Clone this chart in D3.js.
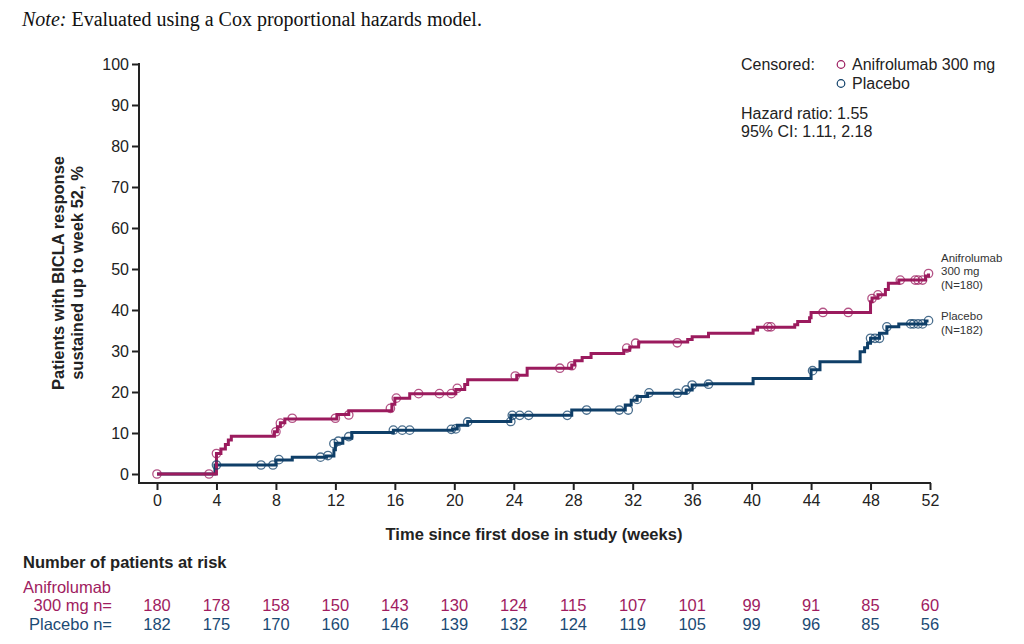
<!DOCTYPE html>
<html>
<head>
<meta charset="utf-8">
<script src="https://cdn.jsdelivr.net/npm/d3@7"></script>
<style>
  html, body { margin: 0; padding: 0; background: #fff; }
  svg { display: block; }
  .sans { font-family: "Liberation Sans", Arial, Helvetica, sans-serif; }
</style>
</head>
<body>
<svg id="chart" width="1024" height="644"></svg>
<script>
// ---------- DATA ----------
const xTicks = [0,4,8,12,16,20,24,28,32,36,40,44,48,52];
const yTicks = [0,10,20,30,40,50,60,70,80,90,100];

// Step curves: [week, cumulative % responders after the step]
const aniSteps = [[0,0],[4.0,5.0],[4.3,6.1],[4.6,7.2],[4.8,8.3],[5.0,9.2],[7.9,10.3],[8.1,11.5],[8.3,12.5],[8.6,13.4],
  [12.1,14.5],[12.9,15.4],[15.8,17.0],[16.0,18.5],[17.0,19.6],[20.1,20.6],[20.7,21.8],[20.9,23.0],[24.2,24.1],[24.9,25.8],
  [27.9,26.6],[28.1,27.6],[28.6,28.4],[29.2,29.4],[31.4,30.2],[31.8,31.0],[32.4,32.2],[35.7,32.8],[36.0,33.5],[37.1,34.3],
  [40.1,35.1],[40.4,35.8],[42.9,36.4],[43.1,37.2],[43.9,38.1],[44.0,39.4],[48.0,42.0],[48.1,42.9],[48.5,43.7],[49.0,45.0],
  [49.2,46.5],[49.9,47.3],[51.7,48.3],[51.9,48.9]];
const plaSteps = [[0,0],[3.9,2.2],[8.0,3.4],[9.1,4.1],[11.4,4.4],[11.9,5.9],[12.0,7.5],[12.5,8.7],[13.1,10.1],[15.9,10.7],
  [19.9,11.0],[20.2,11.9],[20.9,12.8],[23.8,14.3],[27.9,15.6],[31.5,16.8],[31.9,18.0],[32.3,18.9],[33.0,19.7],[35.6,20.5],
  [36.0,21.7],[37.0,22.0],[40.1,23.3],[44.0,25.4],[44.6,27.4],[47.3,29.8],[47.6,30.8],[47.8,31.9],[48.0,33.1],[48.6,34.3],
  [49.1,35.9],[49.9,36.6],[51.7,37.3],[51.9,37.3]];

// Censored observations: [week, %]
const aniCensor = [[0,0],[3.5,0],[4.0,5.0],[8.0,10.3],[8.3,12.4],[9.1,13.6],[12.0,13.6],[12.9,14.4],[15.7,16.0],[16.1,18.5],
  [17.6,19.6],[19.0,19.6],[19.8,19.6],[20.2,20.9],[24.1,23.9],[27.1,25.8],[27.9,26.4],[31.6,30.7],[32.2,31.9],[35.0,32.0],
  [41.1,35.9],[41.3,35.9],[44.8,39.4],[46.5,39.4],[48.1,42.8],[48.5,43.7],[50.0,47.3],[51.0,47.3],[51.2,47.3],[51.5,47.3],[51.9,48.9]];
const plaCensor = [[4.0,2.2],[7.0,2.2],[7.8,2.2],[8.2,3.5],[11.0,4.1],[11.5,4.5],[11.9,7.4],[12.2,8.0],[12.9,9.1],
  [15.9,10.7],[16.5,10.7],[17.0,10.7],[19.8,10.9],[20.1,11.0],[20.9,12.7],[23.8,12.8],[23.9,14.3],[24.4,14.3],[25.0,14.3],
  [27.6,14.3],[28.9,15.6],[31.1,15.6],[31.7,15.6],[32.3,18.2],[33.1,19.8],[35.0,19.7],[35.6,20.5],[36.0,21.7],[37.1,21.9],
  [44.1,25.2],[48.0,33.1],[48.3,33.1],[48.6,33.1],[49.1,35.9],[50.7,36.6],[50.9,36.6],[51.2,36.6],[51.5,36.6],[51.9,37.4]];

// Number at risk
const riskAni = [180,178,158,150,143,130,124,115,107,101,99,91,85,60];
const riskPla = [182,175,170,160,146,139,132,124,119,105,99,96,85,56];

// ---------- DRAW ----------
const cAni = "#9b1b5e", cPla = "#0f3f68";
const svg = d3.select("#chart");
svg.append("rect").attr("width",1024).attr("height",644).attr("fill","#fff");

const x = d3.scaleLinear().domain([0,52]).range([157,930]);
const y = d3.scaleLinear().domain([0,100]).range([474,64]);
const axisX0 = 139, axisY0 = 483;

// Note
svg.append("text").attr("x",22).attr("y",26)
  .attr("font-family","'Liberation Serif', 'Times New Roman', serif").attr("font-size",20).attr("fill","#111")
  .call(t => { t.append("tspan").attr("font-style","italic").text("Note:");
               t.append("tspan").text(" Evaluated using a Cox proportional hazards model."); });

// axes
const gy = svg.append("g").attr("class","sans").attr("transform",`translate(${axisX0},0)`)
  .call(d3.axisLeft(y).tickValues(yTicks).tickSize(7).tickPadding(3));
gy.select(".domain").remove();
gy.selectAll(".tick line").attr("stroke","#222").attr("stroke-width",2);
gy.selectAll(".tick text").attr("font-size",16).attr("fill","#222").attr("font-family","'Liberation Sans', Arial, sans-serif");

const gx = svg.append("g").attr("class","sans").attr("transform",`translate(0,${axisY0})`)
  .call(d3.axisBottom(x).tickValues(xTicks).tickSize(7).tickPadding(5));
gx.select(".domain").remove();
gx.selectAll(".tick line").attr("stroke","#222").attr("stroke-width",2);
gx.selectAll(".tick text").attr("font-size",16).attr("fill","#222").attr("font-family","'Liberation Sans', Arial, sans-serif");

svg.append("line").attr("x1",axisX0).attr("x2",axisX0).attr("y1",y(100)-1).attr("y2",axisY0+1)
  .attr("stroke","#222").attr("stroke-width",2);
svg.append("line").attr("x1",axisX0-1).attr("x2",x(52)+1).attr("y1",axisY0).attr("y2",axisY0)
  .attr("stroke","#222").attr("stroke-width",2);

// axis titles
svg.append("text").attr("class","sans").attr("x",534).attr("y",540).attr("text-anchor","middle")
  .attr("font-size",16.5).attr("font-weight","bold").attr("fill","#222")
  .text("Time since first dose in study (weeks)");
const yt = svg.append("text").attr("class","sans").attr("transform","translate(0,273) rotate(-90)")
  .attr("text-anchor","middle").attr("font-size",16.5).attr("font-weight","bold").attr("fill","#222");
yt.append("tspan").attr("x",0).attr("y",64).text("Patients with BICLA response");
yt.append("tspan").attr("x",0).attr("y",83).text("sustained up to week 52, %");

// curves
const line = d3.line().x(d => x(d[0])).y(d => y(d[1])).curve(d3.curveStepAfter);
svg.append("path").datum(plaSteps).attr("d",line).attr("fill","none").attr("stroke",cPla).attr("stroke-width",3);
svg.append("path").datum(aniSteps).attr("d",line).attr("fill","none").attr("stroke",cAni).attr("stroke-width",3);

function censor(data, col) {
  svg.append("g").selectAll("circle").data(data).join("circle")
    .attr("cx", d => x(d[0])).attr("cy", d => y(d[1])).attr("r",4.2)
    .attr("fill","none").attr("stroke",col).attr("stroke-width",1.3).attr("stroke-opacity",0.75);
}
censor(plaCensor, cPla);
censor(aniCensor, cAni);

// legend
const lg = svg.append("g").attr("class","sans").attr("font-size",16).attr("fill","#222");
lg.append("text").attr("x",741).attr("y",70).text("Censored:");
lg.append("circle").attr("cx",841).attr("cy",64.5).attr("r",3.8).attr("fill","none").attr("stroke",cAni).attr("stroke-width",1.2);
lg.append("text").attr("x",852).attr("y",70).text("Anifrolumab 300 mg");
lg.append("circle").attr("cx",841).attr("cy",83.5).attr("r",3.8).attr("fill","none").attr("stroke",cPla).attr("stroke-width",1.2);
lg.append("text").attr("x",852).attr("y",89).text("Placebo");
lg.append("text").attr("x",741).attr("y",119).text("Hazard ratio: 1.55");
lg.append("text").attr("x",741).attr("y",137).text("95% CI: 1.11, 2.18");

// end labels
const el = svg.append("g").attr("class","sans").attr("font-size",11.5).attr("fill","#333");
[["Anifrolumab",262],["300 mg",275],["(N=180)",289],["Placebo",320],["(N=182)",334]].forEach(([t,yy]) =>
  el.append("text").attr("x",941).attr("y",yy).text(t));

// risk table
const rt = svg.append("g").attr("class","sans").attr("font-size",16.5);
rt.append("text").attr("x",23).attr("y",568).attr("font-weight","bold").attr("fill","#222").text("Number of patients at risk");
rt.append("text").attr("x",23).attr("y",593).attr("fill","#a01c60").text("Anifrolumab");
rt.append("text").attr("x",112).attr("y",611).attr("text-anchor","end").attr("fill","#a01c60").text("300 mg n=");
rt.append("text").attr("x",112).attr("y",630).attr("text-anchor","end").attr("fill","#1b4a74").text("Placebo n=");
rt.append("g").selectAll("text").data(riskAni).join("text")
  .attr("x",(d,i) => x(xTicks[i])).attr("y",611).attr("text-anchor","middle").attr("fill","#a01c60").text(d => d);
rt.append("g").selectAll("text").data(riskPla).join("text")
  .attr("x",(d,i) => x(xTicks[i])).attr("y",630).attr("text-anchor","middle").attr("fill","#1b4a74").text(d => d);
</script>
</body>
</html>
